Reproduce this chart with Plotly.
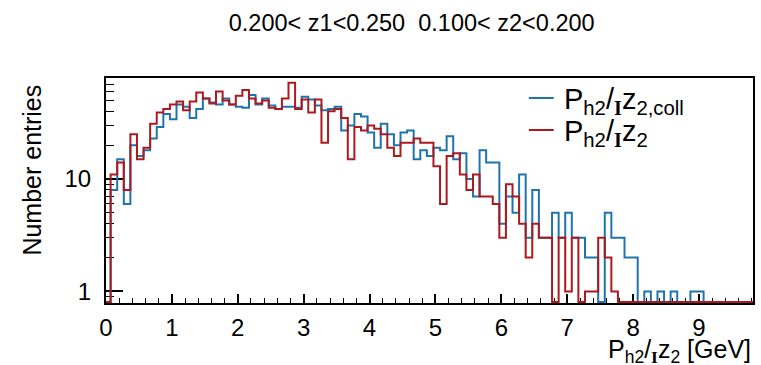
import numpy as np
import plotly.graph_objects as go

# Binning of both histograms (GeV) and displayed axis ranges
bin_start = 0.07
bin_width = 0.1
x_range = [0.0, 9.82]
y_range_log = [-0.103, 1.899]

# Entries per bin, P_h2/z_2,coll
counts_coll = [8, 15, 6, 20, 16, 18, 23, 29, 38, 34,
               46, 44, 35, 42, 52, 48, 46, 52, 46, 44,
               43, 56, 46, 52, 45, 42, 44, 44, 43, 54,
               51, 45, 41, 42, 44, 27, 30, 38, 36, 26,
               19, 31, 25, 20, 26, 27, 15, 18, 16, 19,
               18, 24, 15, 17, 10, 7, 18, 14, 14, 4,
               7, 5, 11, 3, 8, 3, 3, 5, 3, 5,
               3, 3, 2, 2, 0, 5, 3, 3, 2, 2,
               0, 1, 0, 1, 0, 1, 0, 0, 1, 1,
               0, 0, 0, 0, 0, 0, 0, 0]

# Entries per bin, P_h2/z_2
counts_z2 = [11, 14, 8, 25, 15, 19, 31, 39, 42, 46,
             49, 41, 49, 59, 52, 47, 60, 50, 46, 55,
             62, 52, 47, 50, 43, 42, 52, 72, 42, 51,
             39, 51, 21, 40, 42, 35, 15, 29, 27, 30,
             28, 25, 19, 16, 21, 21, 23, 21, 21, 13,
             6, 16, 17, 11, 8, 11, 7, 7, 6, 3,
             9, 7, 4, 2, 4, 3, 3, 0, 3, 1,
             3, 0, 1, 1, 3, 2, 1, 0, 0, 0,
             0, 0, 0, 0, 0, 0, 0, 0, 0, 0,
             0, 0, 0, 0, 0, 0, 0, 0]

bar_glyph = "<sub><b><span style='font-family:Liberation Serif'>I</span></b></sub>"
title_text = "0.200< z1<0.250  0.100< z2<0.200"
name_coll = "P<sub>h2</sub>/" + bar_glyph + "z<sub>2,coll</sub>"
name_z2 = "P<sub>h2</sub>/" + bar_glyph + "z<sub>2</sub>"
x_title = "P<sub>h2</sub>/" + bar_glyph + "z<sub>2</sub> [GeV]"
y_title = "Number entries"
x_tick_vals = list(range(10))
y_tick_vals = [1, 10]
y_minor_vals = [0.8, 0.9] + [m for m in range(2, 10)] + [10 * m for m in range(2, 10)]

color_coll = "#1f74ad"
color_z2 = "#ad1a1e"
font_family = "Liberation Sans, Arial, Helvetica, sans-serif"


def step_xy(counts):
    """Histogram outline for an hv step line; empty bins sit on the frame floor."""
    n = len(counts)
    edges = bin_start + bin_width * np.arange(n + 1)
    floor = 10 ** (y_range_log[0] + 0.008)
    vals = [c if c > 0 else floor for c in counts]
    xs = [x_range[0]] + list(edges)
    ys = [floor] + vals + [vals[-1]]
    return xs, ys


series = [(counts_coll, name_coll, color_coll),
          (counts_z2, name_z2, color_z2)]

fig = go.Figure()
for counts, name, color in series:
    xs, ys = step_xy(counts)
    fig.add_trace(go.Scatter(x=xs, y=ys, mode="lines", name=name, showlegend=False,
                             line=dict(color=color, width=2, shape="hv")))

# Legend box (TLegend style): short line sample followed by the label
legend_x0, legend_x1, legend_text_x = 0.6535, 0.692, 0.7045
legend_rows = [0.911, 0.769]
for (counts, name, color), ly in zip(series, legend_rows):
    fig.add_shape(type="line", xref="paper", yref="paper",
                  x0=legend_x0, x1=legend_x1, y0=ly, y1=ly,
                  line=dict(color=color, width=2))
    fig.add_annotation(text=name, xref="paper", yref="paper", x=legend_text_x, y=ly - 0.015,
                       xanchor="left", yanchor="middle", showarrow=False,
                       font=dict(size=29, family=font_family, color="black"))

fig.update_layout(
    width=761, height=365,
    margin=dict(l=106, r=6, t=78, b=62),
    paper_bgcolor="white", plot_bgcolor="white",
    font=dict(family=font_family, color="black"),
    title=dict(text=title_text, x=0.541, xanchor="center", y=0.937, yanchor="middle",
               font=dict(size=23.5, family=font_family, color="black")),
    showlegend=False,
)

fig.update_xaxes(
    range=x_range, showgrid=False, zeroline=False,
    showline=True, linecolor="black", linewidth=2, mirror=True,
    ticks="inside", ticklen=9, tickwidth=1.5, tickcolor="black",
    tickmode="array", tickvals=x_tick_vals,
    tickfont=dict(size=24, family=font_family), ticklabelstandoff=2,
    minor=dict(ticks="inside", ticklen=5, tickwidth=1.2, tickcolor="black", dtick=0.2,
               showgrid=False),
    layer="below traces",
)
fig.update_yaxes(
    type="log", range=y_range_log, showgrid=False, zeroline=False,
    showline=True, linecolor="black", linewidth=2, mirror=True,
    ticks="inside", ticklen=17, tickwidth=1.5, tickcolor="black",
    tickmode="array", tickvals=y_tick_vals, ticktext=[str(v) for v in y_tick_vals],
    tickfont=dict(size=24, family=font_family), ticklabelstandoff=8,
    minor=dict(ticks="inside", ticklen=8, tickwidth=1.2, tickcolor="black",
               tickmode="array", tickvals=y_minor_vals, showgrid=False),
    layer="below traces",
)

fig.add_annotation(text=x_title, xref="paper", yref="paper", x=1.0, y=-0.215,
                   xanchor="right", yanchor="middle", showarrow=False,
                   font=dict(size=25, family=font_family))
fig.add_annotation(text=y_title, xref="paper", yref="paper", x=-0.115, y=0.591,
                   xanchor="center", yanchor="middle", textangle=-90, showarrow=False,
                   font=dict(size=25, family=font_family))

fig.write_html("out.html")
